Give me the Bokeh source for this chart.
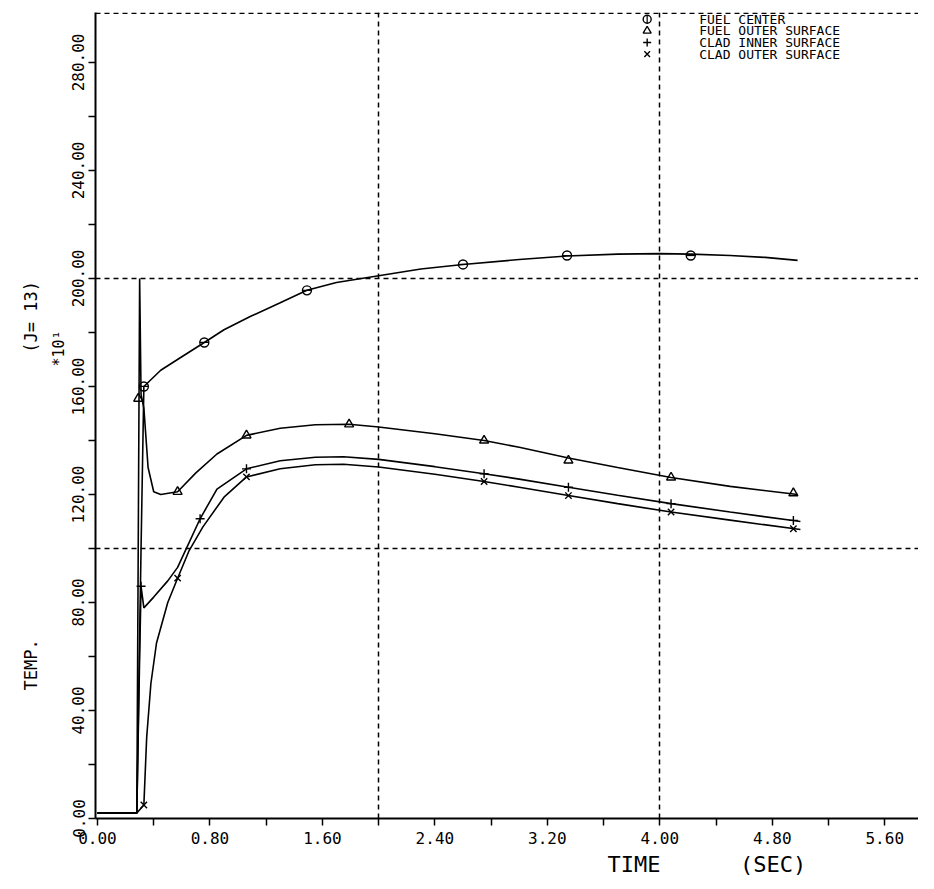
import math
from bokeh.plotting import figure
from bokeh.models import Range1d, FixedTicker, Span, Title
from bokeh.core.properties import value
from bokeh.embed import file_html
from bokeh.resources import INLINE

# ---------------- data ----------------
fc_x = [0.0, 0.28, 0.31, 0.33, 0.45, 0.6, 0.76, 0.9, 1.09, 1.3, 1.49, 1.7, 2.0, 2.3, 2.6, 3.0, 3.34, 3.7, 4.0, 4.22, 4.5, 4.75, 4.98]
fc_y = [2, 2, 100, 160, 166, 171, 176.3, 181, 186, 191, 195.6, 198.5, 201, 203.5, 205.2, 207, 208.3, 209, 209.2, 209, 208.5, 207.8, 206.7]
fc_mx = [0.33, 0.76, 1.49, 2.60, 3.34, 4.22]
fc_my = [160, 176.3, 195.6, 205.2, 208.5, 208.5]

fo_x = [0.0, 0.28, 0.30, 0.31, 0.33, 0.36, 0.40, 0.45, 0.57, 0.7, 0.85, 1.06, 1.3, 1.55, 1.79, 2.0, 2.4, 2.75, 3.0, 3.35, 3.7, 4.08, 4.5, 4.98]
fo_y = [2, 2, 200, 157, 152, 130, 121, 120, 121, 128, 135, 141.9, 144.5, 145.8, 146, 145, 142.5, 140, 137.5, 133.5, 130, 126.3, 123, 120]
fo_mx = [0.29, 0.57, 1.06, 1.79, 2.75, 3.35, 4.08, 4.95]
fo_my = [155.5, 121, 141.9, 146, 140, 132.6, 126.3, 120.5]

ci_x = [0.0, 0.28, 0.30, 0.31, 0.33, 0.4, 0.5, 0.57, 0.65, 0.73, 0.85, 1.06, 1.3, 1.55, 1.75, 2.0, 2.4, 2.75, 3.0, 3.35, 3.7, 4.08, 4.5, 5.0]
ci_y = [2, 2, 60, 86, 78, 82, 88, 93, 102, 111, 122, 129.5, 132.5, 133.8, 134, 133, 130.3, 127.7, 125.7, 122.7, 119.7, 116.6, 113.5, 110]
ci_mx = [0.31, 0.73, 1.06, 2.75, 3.35, 4.08, 4.95]
ci_my = [86, 111, 129.5, 127.7, 122.7, 116.6, 110.4]

co_x = [0.0, 0.28, 0.33, 0.35, 0.38, 0.42, 0.5, 0.57, 0.65, 0.75, 0.9, 1.06, 1.3, 1.55, 1.75, 2.0, 2.4, 2.75, 3.0, 3.35, 3.7, 4.08, 4.5, 5.0]
co_y = [2, 2, 5, 30, 50, 65, 80, 89, 99, 108, 119, 126.5, 129.5, 131, 131.2, 130.2, 127.5, 124.8, 122.7, 119.6, 116.6, 113.5, 110.5, 107]
co_mx = [0.33, 0.57, 1.06, 2.75, 3.35, 4.08, 4.95]
co_my = [5, 89, 126.5, 124.8, 119.6, 113.5, 107.3]

x_ticks = [0.0, 0.8, 1.6, 2.4, 3.2, 4.0, 4.8, 5.6]
x_minor = [0.4, 1.2, 2.0, 2.8, 3.6, 4.4, 5.2]
x_labels = ["0.00", "0.80", "1.60", "2.40", "3.20", "4.00", "4.80", "5.60"]
y_ticks = [0, 40, 80, 120, 160, 200, 240, 280]
y_minor = [20, 60, 100, 140, 180, 220, 260]
y_labels = ["0.00", "40.00", "80.00", "120.00", "160.00", "200.00", "240.00", "280.00"]
grid_x = [2.0, 4.0]
grid_y = [100, 200]
legend_names = ["FUEL CENTER", "FUEL OUTER SURFACE", "CLAD INNER SURFACE", "CLAD OUTER SURFACE"]
legend_markers = ["circle", "triangle", "cross", "x"]
x_title = ["TIME", "(SEC)"]
y_title = ["TEMP.", "(J= 13)"]
y_scale = "*10\u00b9"

FONTNAME = "DejaVu Sans Mono"
FONT = value(FONTNAME)
NB = "\u00a0"

W, H = 918, 880
FL, FT, FB = 95, 12, 818          # frame left / top / bottom on the canvas
p = figure(width=W, height=H, x_range=Range1d(-0.014, 5.84), y_range=Range1d(0, 298.5),
           output_backend="svg", toolbar_location=None,
           min_border_left=FL, min_border_right=0, min_border_top=FT, min_border_bottom=H - FB)
p.outline_line_color = None

for ax in (p.xaxis[0], p.yaxis[0]):
    ax.axis_line_width = 2
    ax.axis_line_color = "black"
    ax.major_tick_line_color = "black"
    ax.minor_tick_line_color = "black"
    ax.major_tick_line_width = 1.5
    ax.minor_tick_line_width = 1.5
    ax.major_tick_in = 0
    ax.minor_tick_in = 0
    ax.major_tick_out = 7
    ax.minor_tick_out = 7
    ax.major_label_text_font = FONTNAME
    ax.major_label_text_font_size = "16px"
    ax.major_label_text_color = "black"

p.xaxis.ticker = FixedTicker(ticks=x_ticks, minor_ticks=x_minor)
p.xaxis.major_label_overrides = {t: l for t, l in zip(x_ticks, x_labels)}
p.xaxis.major_label_standoff = 6
p.yaxis.ticker = FixedTicker(ticks=y_ticks, minor_ticks=y_minor)
p.yaxis.major_label_overrides = {t: l for t, l in zip(y_ticks, y_labels)}
p.yaxis.major_label_orientation = "vertical"
p.yaxis.major_label_standoff = 4

p.xgrid.ticker = FixedTicker(ticks=grid_x)
p.ygrid.ticker = FixedTicker(ticks=grid_y)
for g in (p.xgrid[0], p.ygrid[0]):
    g.grid_line_color = "black"
    g.grid_line_dash = "5 4"
    g.grid_line_width = 1.5
p.add_layout(Span(location=298.2, dimension="width", line_color="black", line_dash="5 4", line_width=1.5))

series = [
    (fc_x, fc_y, fc_mx, fc_my, "circle"),
    (fo_x, fo_y, fo_mx, fo_my, "triangle"),
    (ci_x, ci_y, ci_mx, ci_my, "cross"),
    (co_x, co_y, co_mx, co_my, "x"),
]
for xs, ys, mx, my, mk in series:
    p.line(xs, ys, line_color="black", line_width=1.6)
    p.scatter(mx, my, marker=mk, size=9, fill_color=None, line_color="black", line_width=1.4)
p.scatter(fc_mx, fc_my, marker="dash", size=9, line_color="black", line_width=1.2)

# legend: symbols left of the x=4.0 dashed line, names to its right
leg_y = [296.0, 291.7, 287.4, 283.1]
p.scatter([3.91] * 4, leg_y, marker=legend_markers, size=8, fill_color=None, line_color="black", line_width=1.4)
p.scatter([3.91], leg_y[:1], marker="dash", angle=math.pi / 2, size=8, line_color="black", line_width=1.2)
p.text([4.28] * 4, leg_y, text=legend_names, text_font=FONT, text_font_size="13px",
       text_baseline="middle", text_color="black")

# axis titles (side titles so they sit outside the frame)
tx = Title(text=x_title[0] + NB * 6 + x_title[1], align="left", offset=512, standoff=6,
           text_font=FONTNAME, text_font_size="22px", text_font_style="normal", text_color="black")
p.add_layout(tx, "below")
ts = Title(text=y_scale, align="left", offset=818 - 366, standoff=4,
           text_font=FONTNAME, text_font_size="15px", text_font_style="normal", text_color="black")
p.add_layout(ts, "left")
ty = Title(text=y_title[0] + NB * 28 + y_title[1], align="left", offset=818 - 690, standoff=10,
           text_font=FONTNAME, text_font_size="17px", text_font_style="normal", text_color="black")
p.add_layout(ty, "left")

open("out.html", "w").write(file_html(p, INLINE))
